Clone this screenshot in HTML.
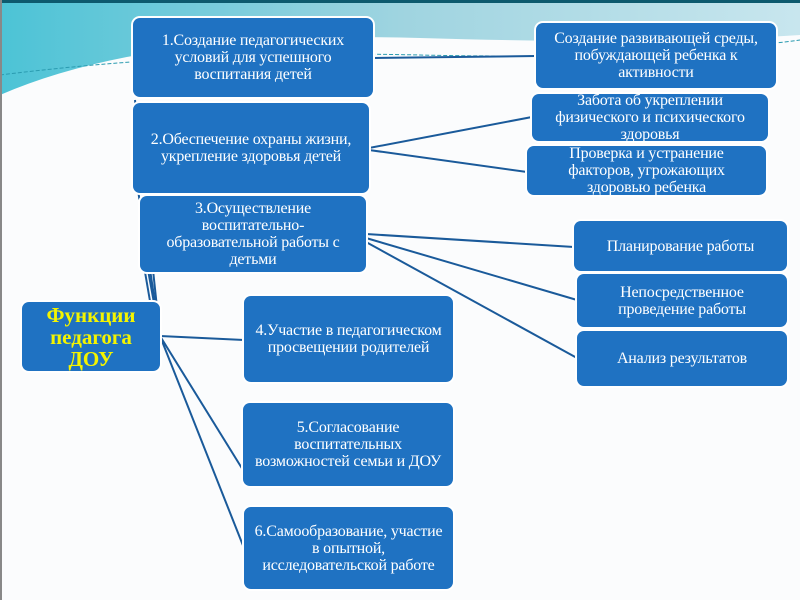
<!DOCTYPE html>
<html><head><meta charset="utf-8"><style>
body{margin:0;width:800px;height:600px;overflow:hidden;background:#fbfcfd;font-family:"Liberation Serif",serif}
.b{position:absolute;background:#1f72c2;border-radius:7px;color:#fff;display:flex;align-items:center;justify-content:center;text-align:center;font-size:16px;line-height:17px;box-shadow:0 0 0 2px #fff;letter-spacing:-0.2px}
svg{position:absolute;left:0;top:0}
</style></head><body>
<svg width="800" height="600">
<defs><linearGradient id="g" x1="0" y1="0" x2="1" y2="0"><stop offset="0" stop-color="#4cc3d6"/><stop offset="0.5" stop-color="#9fd4e0"/><stop offset="1" stop-color="#c8e6ee"/></linearGradient></defs>
<rect width="800" height="100" fill="url(#g)"/>
<path d="M0 95 Q150 30 420 38 Q650 45 800 35 L800 600 L0 600Z" fill="#fbfcfd"/>
<path d="M0 75 Q200 50 420 55 Q650 60 800 40" stroke="#2a9bb0" stroke-width="1" stroke-dasharray="4 2" fill="none"/>
<rect width="800" height="3" fill="#0d5a6e"/>
<rect x="0" y="0" width="2" height="600" fill="#888"/>
<g stroke="#1a5a9a" stroke-width="2" fill="none">
<path d="M160 336 L135 100"/><path d="M160 336 L138 190"/><path d="M160 336 L148 270"/><path d="M156 336 L145 272"/>
<path d="M160 336 L244 340"/><path d="M160 336 L243 470"/><path d="M160 336 L244 548"/>
<path d="M373 58 L536 56"/>
<path d="M369 148 L532 117"/><path d="M369 150 L527 172"/>
<path d="M366 234 L574 247"/><path d="M366 238 L577 300"/><path d="M366 242 L577 358"/>
</g>
</svg>
<div class="b" style="left:133px;top:18px;width:240px;height:79px">1.Создание педагогических<br>условий для успешного<br>воспитания детей</div>
<div class="b" style="left:133px;top:103px;width:236px;height:90px">2.Обеспечение охраны жизни,<br>укрепление здоровья детей</div>
<div class="b" style="left:140px;top:196px;width:226px;height:76px">3.Осуществление<br>воспитательно-<br>образовательной работы с<br>детьми</div>
<div class="b" style="left:22px;top:302px;width:138px;height:69px;color:#f4f400;font-weight:bold;font-size:21px;line-height:22px;letter-spacing:0">Функции<br>педагога<br>ДОУ</div>
<div class="b" style="left:244px;top:296px;width:209px;height:86px">4.Участие в педагогическом<br>просвещении родителей</div>
<div class="b" style="left:243px;top:403px;width:210px;height:83px">5.Согласование<br>воспитательных<br>возможностей семьи и ДОУ</div>
<div class="b" style="left:244px;top:507px;width:209px;height:82px">6.Самообразование, участие<br>в опытной,<br>исследовательской работе</div>
<div class="b" style="left:536px;top:23px;width:240px;height:65px">Создание развивающей среды,<br>побуждающей ребенка к<br>активности</div>
<div class="b" style="left:532px;top:94px;width:236px;height:47px">Забота об укреплении<br>физического и психического<br>здоровья</div>
<div class="b" style="left:527px;top:146px;width:239px;height:49px">Проверка и устранение<br>факторов, угрожающих<br>здоровью ребенка</div>
<div class="b" style="left:574px;top:221px;width:213px;height:50px">Планирование работы</div>
<div class="b" style="left:577px;top:274px;width:210px;height:53px">Непосредственное<br>проведение работы</div>
<div class="b" style="left:577px;top:331px;width:210px;height:55px">Анализ результатов</div>
</body></html>
